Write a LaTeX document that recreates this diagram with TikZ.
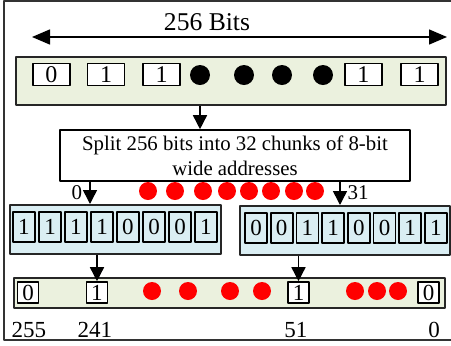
\documentclass[tikz,border=0pt]{standalone}
\usepackage{fontspec}
\setmainfont{Liberation Serif}
\usetikzlibrary{arrows.meta}
\definecolor{barGreen}{RGB}{235,241,222}
\definecolor{barBlue}{RGB}{218,238,243}
\begin{document}
\begin{tikzpicture}[x=0.5pt,y=-0.5pt,line join=round,>={Triangle[width=7pt,length=7pt]},
	bar/.style={draw=black!85,line width=1pt,inner sep=0pt},
	bit/.style={draw,fill=white,line width=0.8pt,inner sep=0pt,minimum width=18.5pt,minimum height=11pt,font=\fontsize{12}{12}\selectfont},
	cell/.style={draw,line width=0.9pt,inner sep=0pt,minimum width=11pt,minimum height=15pt,font=\fontsize{11.5}{11.5}\selectfont},
	slot/.style={draw,fill=white,line width=0.8pt,inner sep=0pt,minimum width=10.5pt,minimum height=10.5pt,font=\fontsize{11.5}{11.5}\selectfont},
	dot/.style={circle,fill=black,inner sep=0pt,minimum size=10pt},
	reddot/.style={circle,fill=red,inner sep=0pt,minimum size=9pt},
	lbl/.style={inner sep=0pt,font=\fontsize{10.5}{10.5}\selectfont}]
	\useasboundingbox (0,0) rectangle (451,345);
	\draw[line width=0.7pt,black!80] (4,1) rectangle (456,340);
	% width of the word
	\coordinate (wl) at (32,37);
	\coordinate (wr) at (447,37);
	\draw[{Triangle[width=7.5pt,length=9pt]}-{Triangle[width=7.5pt,length=9pt]},line width=0.75pt] (wl) -- (wr);
	\node[inner sep=0pt,font=\fontsize{12.8}{12.8}\selectfont] (bits) at (207,22) {256 Bits};
	% full row
	\node[bar,fill=barGreen,minimum width=215pt,minimum height=24pt] (row) at (231,81) {};
	\foreach \x/\b [count=\i] in {51.5/0,106/1,161.5/1,363.5/1,419.5/1}
		\node[bit] (t\i) at (\x,74.5) {\b};
	\foreach \x [count=\i] in {200,244,282,323}
		\node[dot] (d\i) at (\x,75) {};
	\node[draw,line width=0.8pt,minimum width=175pt,minimum height=25.5pt,inner sep=0pt,align=center,font=\fontsize{10.4}{12.5}\selectfont] (split) at (235,155.5) {Split 256 bits into 32 chunks of 8-bit\\wide addresses};
	\draw[->,line width=0.75pt] (d1 |- row.south) -- (d1 |- split.north);
	% chunks
	\node[bar,fill=barBlue,minimum width=105.5pt,minimum height=24.5pt] (blockL) at (115.5,229.5) {};
	\node[bar,fill=barBlue,minimum width=105pt,minimum height=24.5pt] (blockR) at (345,230.5) {};
	\foreach \b [count=\i] in {1,1,1,1,0,0,0,1}
		\node[cell] (a\i) at ({24+26*(\i-1)},227) {\b};
	\foreach \b [count=\i] in {0,0,1,1,0,0,1,1}
		\node[cell] (c\i) at ({256+25.7*(\i-1)},228) {\b};
	\coordinate (sL) at (90,181);
	\coordinate (sR) at (340,181);
	\draw[->,line width=0.75pt] (sL) -- (sL |- blockL.north);
	\draw[->,line width=0.75pt] (sR) -- (sR |- blockR.north);
	\node[lbl] (first) at (77,193) {0};
	\node[lbl] (last) at (358,193) {31};
	\foreach \x [count=\i] in {148,175,203,227,249,271,294,315}
		\node[reddot] (m\i) at (\x,191) {};
	% address row
	\node[bar,fill=barGreen,minimum width=215.5pt,minimum height=15pt] (addr) at (229.5,293) {};
	\node[slot] (s255) at (28,292.5) {0};
	\node[slot] (s241) at (97,292.5) {1};
	\node[slot] (s51) at (298.5,292.5) {1};
	\node[slot] (s0) at (428.5,292.5) {0};
	\foreach \x [count=\i] in {152,188,230,262,355,377,398}
		\node[reddot] (r\i) at (\x,291) {};
	\draw[->,line width=0.75pt] (s241 |- blockL.south) -- (s241.north);
	\draw[->,line width=0.75pt] (s51 |- blockR.south) -- (s51.north);
	\node[lbl,font=\fontsize{11.5}{11.5}\selectfont] (n255) at (29,330) {255};
	\node[lbl,font=\fontsize{11.5}{11.5}\selectfont] (n241) at (95,330) {241};
	\node[lbl,font=\fontsize{11.5}{11.5}\selectfont] (n51) at (296,330) {51};
	\node[lbl,font=\fontsize{11.5}{11.5}\selectfont] (n0) at (434,330) {0};
\end{tikzpicture}
\end{document}
